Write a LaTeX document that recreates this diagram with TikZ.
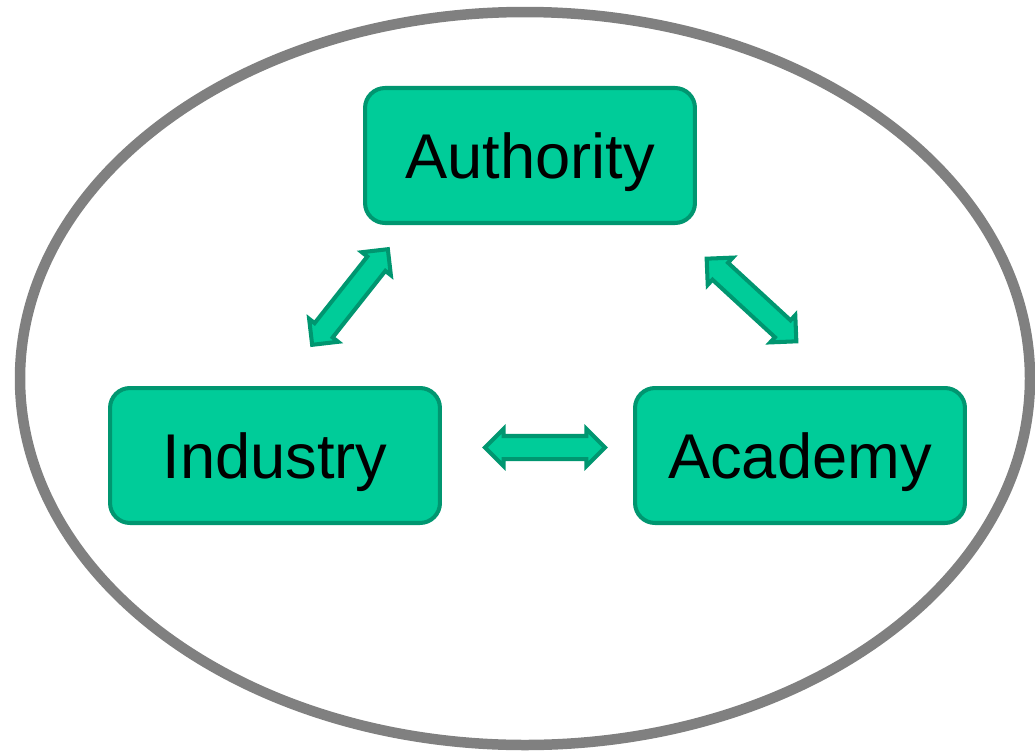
\documentclass[tikz,border=0pt]{standalone}
\usepackage{fontspec}
\setmainfont{Liberation Sans}
\usetikzlibrary{shapes.arrows}
\definecolor{boxfill}{RGB}{0,204,153}
\definecolor{boxline}{RGB}{0,150,112}
\definecolor{ringgray}{RGB}{128,128,128}
\tikzset{
  partner/.style={draw=boxline, fill=boxfill, line width=2.3pt, rounded corners=0.4cm,
    minimum width=6.6cm, minimum height=2.7cm, text height=0.92cm, text depth=0pt,
    font=\fontsize{36}{43}\selectfont},
  linkarrow/.style={double arrow, draw=boxline, fill=boxfill, line width=2.3pt, sloped,
    inner sep=0.19cm, text height=0pt, text depth=0pt, double arrow head extend=0.14cm,
    minimum width=0.66cm, minimum height=2.44cm}
}
\begin{document}
\begin{tikzpicture}[x=0.02cm,y=-0.02cm]
            \useasboundingbox (0,0) rectangle (1035,751);
            % Outer ring
            \draw[ringgray, line width=0.21cm] (525,378.5) ellipse [x radius=505, y radius=366.5];

            % Boxes
            \node[partner] (auth) at (530,155.5) {Authority};
            \node[partner] (ind) at (275,455.5) {Industry};
            \node[partner] (acad) at (800,455.5) {Academy};

            % Arrow ends
            \coordinate (ai1) at (388,249);
            \coordinate (ai2) at (312,345);
            \coordinate (aa1) at (707,259);
            \coordinate (aa2) at (796,341);
            \coordinate (ia1) at (485,447.5);
            \coordinate (ia2) at (605,447.5);

            % Arrows between the boxes
            \path (ai1) -- node[linkarrow] (linkai) {} (ai2);
            \path (aa1) -- node[linkarrow] (linkaa) {} (aa2);
            \path (ia1) -- node[linkarrow, minimum height=2.4cm] (linkia) {} (ia2);
          \end{tikzpicture}
\end{document}
